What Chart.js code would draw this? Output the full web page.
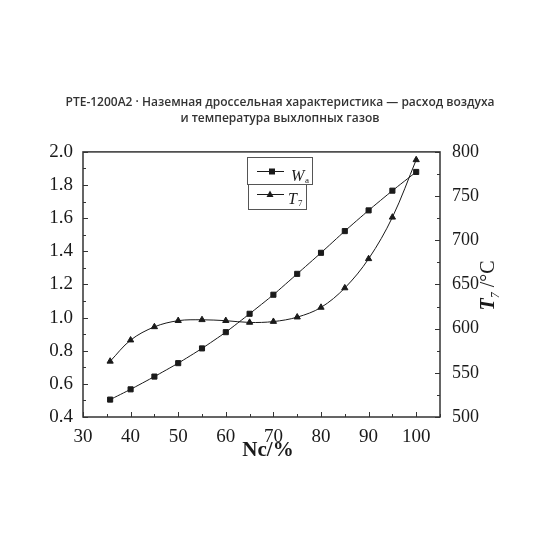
<!DOCTYPE html>
<html>
<head>
<meta charset="utf-8">
<script src="https://cdn.jsdelivr.net/npm/chart.js@4"></script>
<style>
  html, body { margin: 0; padding: 0; background: #fff; }
  #wrap { width: 560px; height: 560px; }
</style>
</head>
<body>
<div id="wrap"><canvas id="chart" width="560" height="560"></canvas></div>
<script>
// Nc, % (x), air flow Wa (left axis), exhaust temperature T7 in °C (right axis)
const nc = [35.7, 40, 45, 50, 55, 60, 65, 70, 75, 80, 85, 90, 95, 100];
const wa = [0.505, 0.567, 0.644, 0.725, 0.814, 0.912, 1.023, 1.138, 1.264, 1.391, 1.522, 1.647, 1.766, 1.879];
const t7 = [563, 587, 602, 609, 610, 609, 607, 608, 613, 624, 646, 679, 726, 791];
const titleLines = ['PTE-1200A2 · Наземная дроссельная характеристика — расход воздуха', 'и температура выхлопных газов'];

const serif = '"Liberation Serif", "DejaVu Serif", serif';
const ink = '#1a1a1a';

// frame, inward ticks, axis titles and legend boxes
const decor = {
    id: 'decor',
    afterDraw(chart) {
        const ctx = chart.ctx;
        const a = chart.chartArea;
        const sx = chart.scales.x, sy = chart.scales.y, sy1 = chart.scales.y1;
        ctx.save();
        ctx.strokeStyle = '#333';
        ctx.lineWidth = 1.5;
        ctx.strokeRect(a.left, a.top, a.right - a.left, a.bottom - a.top);

        ctx.lineWidth = 1;
        ctx.beginPath();
        for (let v = 30; v <= 105; v += 5) {
            const px = Math.round(sx.getPixelForValue(v)) + 0.5;
            const len = v % 10 === 0 ? 5 : 3;
            ctx.moveTo(px, a.bottom); ctx.lineTo(px, a.bottom - len);
        }
        for (let i = 4; i <= 20; i++) {
            const py = Math.round(sy.getPixelForValue(i / 10)) + 0.5;
            const len = i % 2 === 0 ? 5 : 3;
            ctx.moveTo(a.left, py); ctx.lineTo(a.left + len, py);
        }
        for (let v = 500; v <= 800; v += 25) {
            const py = Math.round(sy1.getPixelForValue(v)) + 0.5;
            const len = v % 50 === 0 ? 5 : 3;
            ctx.moveTo(a.right, py); ctx.lineTo(a.right - len, py);
        }
        ctx.stroke();

        // x title
        ctx.fillStyle = ink;
        ctx.font = 'bold 21px ' + serif;
        ctx.textAlign = 'center';
        ctx.textBaseline = 'middle';
        ctx.fillText('Nc/%', 268, 451);

        // right title, rotated
        ctx.save();
        ctx.translate(487, (a.top + a.bottom) / 2 + 1);
        ctx.rotate(-Math.PI / 2);
        const parts = [
            { t: 'T', f: 'italic bold 20px ' + serif, dy: 0 },
            { t: '7', f: 'italic 12px ' + serif, dy: 5 },
            { t: ' /°C', f: '20px ' + serif, dy: 0 }
        ];
        let total = 0;
        parts.forEach(p => { ctx.font = p.f; p.w = ctx.measureText(p.t).width; total += p.w; });
        let cx = -total / 2;
        ctx.textAlign = 'left';
        ctx.textBaseline = 'alphabetic';
        parts.forEach(p => { ctx.font = p.f; ctx.fillText(p.t, cx, 7 + p.dy); cx += p.w; });
        ctx.restore();

        // legend
        ctx.strokeStyle = '#555';
        ctx.lineWidth = 1;
        ctx.strokeRect(247.5, 157.5, 65, 27);
        ctx.strokeRect(248.5, 184.5, 58, 25);
        ctx.strokeStyle = ink;
        ctx.beginPath();
        ctx.moveTo(257, 171.5); ctx.lineTo(284, 171.5);
        ctx.moveTo(257, 194.5); ctx.lineTo(284, 194.5);
        ctx.stroke();
        ctx.fillStyle = ink;
        ctx.fillRect(269, 168.5, 6, 6);
        ctx.beginPath();
        ctx.moveTo(270, 190.5); ctx.lineTo(273.5, 197); ctx.lineTo(266.5, 197);
        ctx.closePath(); ctx.fill();
        ctx.textAlign = 'left';
        ctx.font = 'italic 16px ' + serif;
        ctx.fillText('W', 291, 177);
        ctx.fillText('T', 288, 200);
        ctx.font = '9px ' + serif;
        ctx.fillText('a', 305, 181);
        ctx.fillText('7', 298, 204);
        ctx.restore();
    }
};

const ctx = document.getElementById('chart').getContext('2d');
new Chart(ctx, {
    type: 'line',
    data: {
        datasets: [{
            label: 'Wa',
            data: nc.map((x, i) => ({ x: x, y: wa[i] })),
            yAxisID: 'y',
            borderColor: ink,
            backgroundColor: ink,
            borderWidth: 1,
            pointStyle: 'rect',
            pointRadius: 3.6,
            tension: 0.2
        }, {
            label: 'T7',
            data: nc.map((x, i) => ({ x: x, y: t7[i] })),
            yAxisID: 'y1',
            borderColor: ink,
            backgroundColor: ink,
            borderWidth: 1,
            pointStyle: 'triangle',
            pointRadius: 3.6,
            tension: 0.35
        }]
    },
    options: {
        responsive: false,
        animation: false,
        layout: { padding: 0 },
        plugins: {
            legend: { display: false },
            tooltip: { enabled: false },
            title: {
                display: true,
                text: titleLines,
                color: '#333',
                font: { family: '"Open Sans", "Noto Sans", sans-serif', size: 12, weight: '600', lineHeight: 1.35 },
                padding: { top: 94, bottom: 25.5 }
            }
        },
        scales: {
            x: {
                type: 'linear',
                min: 30,
                max: 105,
                grid: { display: false },
                border: { display: false },
                afterFit(s) { s.height = 143; },
                ticks: { stepSize: 10, includeBounds: false, autoSkip: false, maxRotation: 0,
                    padding: 1, color: ink, font: { family: serif, size: 19 } }
            },
            y: {
                position: 'left',
                min: 0.4,
                max: 2.0,
                grid: { display: false },
                border: { display: false },
                afterFit(s) { s.width = 83; },
                ticks: { stepSize: 0.2, padding: 2, color: ink, font: { family: serif, size: 19 },
                    callback: v => v.toFixed(1) }
            },
            y1: {
                position: 'right',
                min: 500,
                max: 800,
                grid: { display: false },
                border: { display: false },
                afterFit(s) { s.width = 120; },
                ticks: { stepSize: 50, padding: 4, color: ink, font: { family: serif, size: 18 } }
            }
        }
    },
    plugins: [decor]
});
</script>
</body>
</html>
